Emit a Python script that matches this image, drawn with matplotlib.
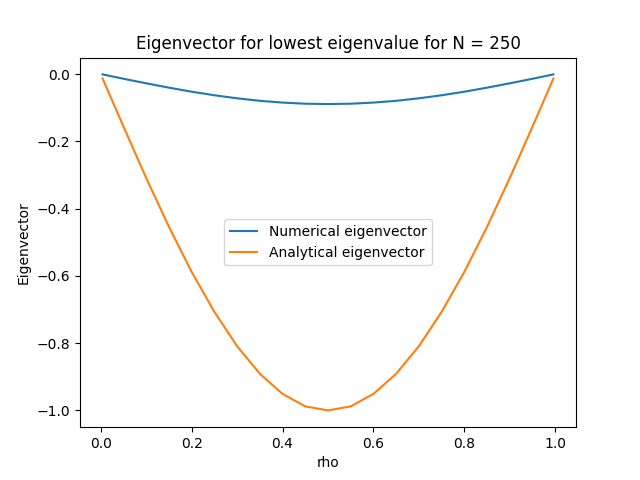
import matplotlib
matplotlib.use('Agg')
import matplotlib.pyplot as plt

# values
rho = [0.004, 0.05, 0.1, 0.15, 0.2, 0.25, 0.3, 0.35, 0.4, 0.45, 0.5,
       0.55, 0.6, 0.65, 0.7, 0.75, 0.8, 0.85, 0.9, 0.95, 0.996]
half_num = [-0.0011, -0.014, -0.0276, -0.0405, -0.0525, -0.0631,
            -0.0722, -0.0796, -0.0849, -0.0882, -0.0893]
half_ana = [-0.013, -0.156, -0.309, -0.454, -0.588, -0.707,
            -0.809, -0.891, -0.951, -0.988, -1.0]
numerical = half_num + half_num[-2::-1]
analytical = half_ana + half_ana[-2::-1]

fig, ax = plt.subplots(figsize=(6.4, 4.8), dpi=100)
ax.plot(rho, numerical, label='Numerical eigenvector')
ax.plot(rho, analytical, label='Analytical eigenvector')
ax.set_title('Eigenvector for lowest eigenvalue for N = 250')
ax.set_xlabel('rho')
ax.set_ylabel('Eigenvector')
ax.legend(loc='center')
fig.savefig('out.png')
